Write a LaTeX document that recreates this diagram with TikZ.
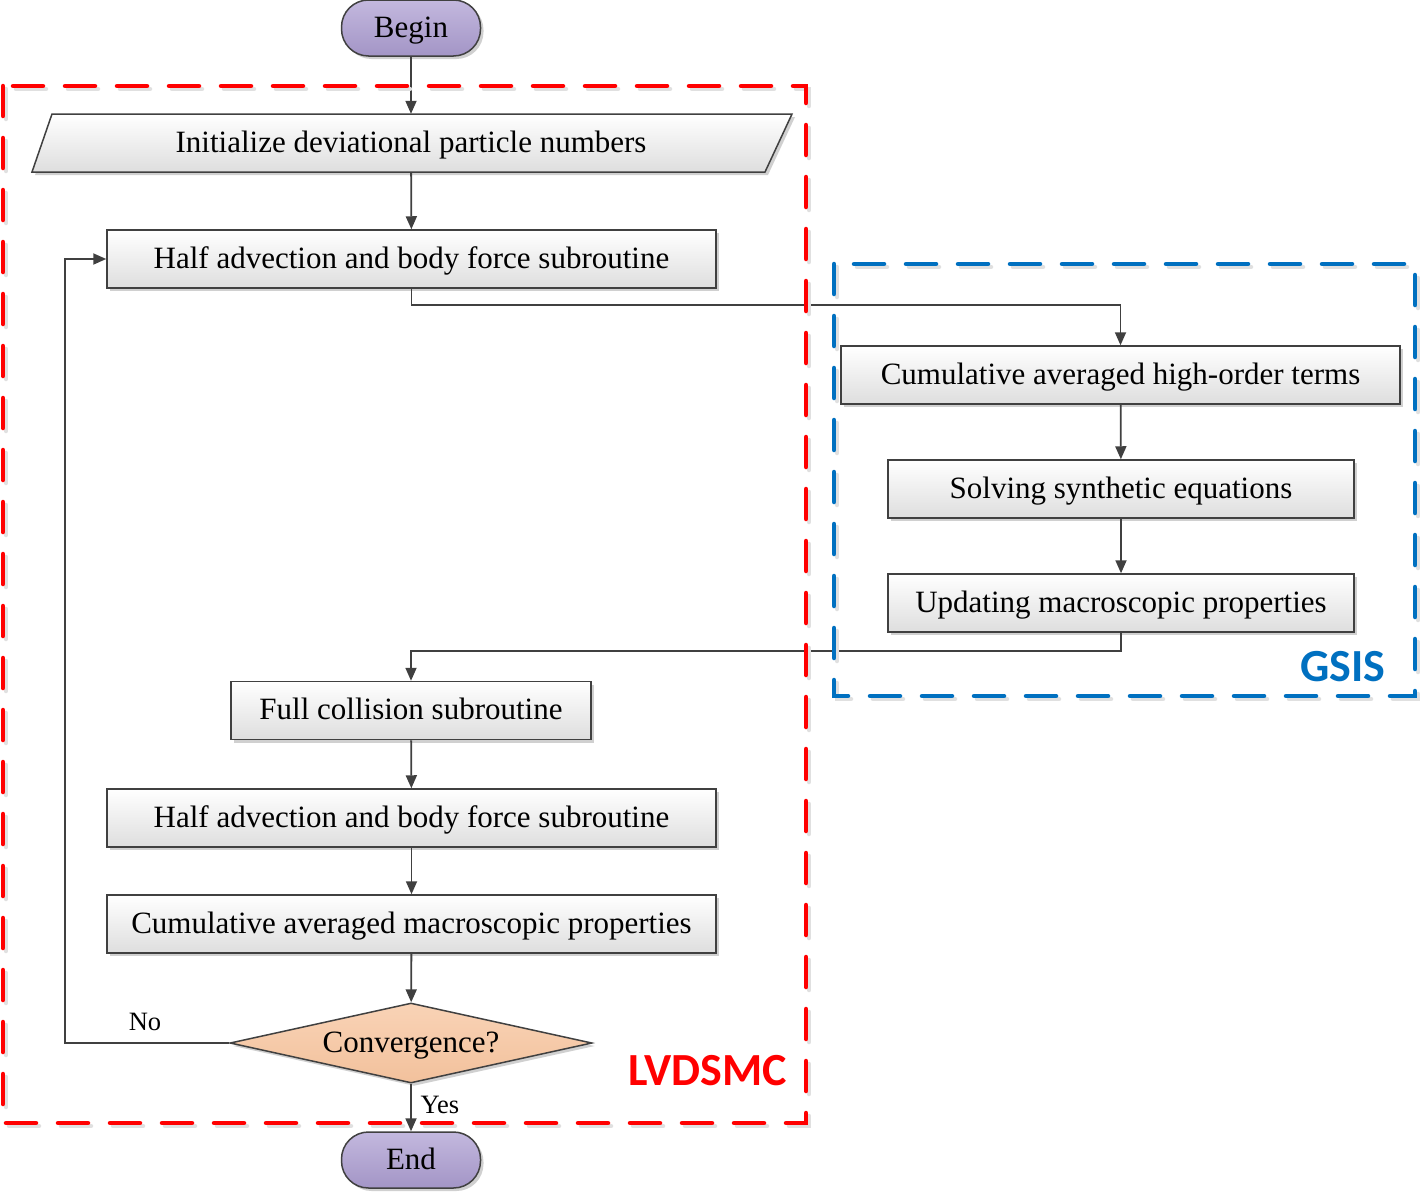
\documentclass[tikz,border=0pt]{standalone}
\usepackage{fontspec}
\setmainfont{Liberation Serif}
\newfontfamily\calib{Carlito}
\usetikzlibrary{arrows.meta,shadows,shapes.geometric}
\definecolor{lineg}{HTML}{404040}
\definecolor{lvred}{HTML}{FF0000}
\definecolor{gsblue}{HTML}{0070C0}
\definecolor{lavtop}{HTML}{C3B8DE}
\definecolor{lavbot}{HTML}{A395C6}
\definecolor{peachtop}{HTML}{F9D3B6}
\definecolor{peachbot}{HTML}{F2C19C}
\begin{document}
\begin{tikzpicture}[x=1pt,y=-1pt,
  every node/.style={font=\fontsize{31}{36}\selectfont, text=black},
  txt/.style={text height=22pt, text depth=4pt},
  shad/.style={drop shadow={shadow xshift=3pt, shadow yshift=-3pt, fill=black!30, opacity=0.6}},
  box/.style={draw=lineg, line width=1.5pt, top color=white, bottom color=black!13,
    minimum height=58pt, inner sep=0pt, txt, shad},
  term/.style={draw=lineg, line width=1.5pt, top color=lavtop, bottom color=lavbot,
    minimum width=139pt, minimum height=56pt, rounded corners=27pt, inner sep=0pt, txt, shad},
  decis/.style={diamond, draw=lineg, line width=1.5pt, top color=peachtop, bottom color=peachbot,
    minimum width=362pt, minimum height=80pt, aspect=4.5, inner sep=1pt, txt, shad},
  arr/.style={draw=lineg, line width=1.8pt, -{Triangle[length=13pt,width=11pt]}},
  frame/.style={line width=4.5pt, dash pattern=on 30pt off 22pt, line cap=round},
  small/.style={font=\fontsize{26.5}{30}\selectfont},
  tag/.style={font=\calib\bfseries\fontsize{46}{50}\selectfont}
]
\fill[white] (0,0) rectangle (1420,1191);
\useasboundingbox (0,0) rectangle (1420,1191);

% parallelogram
\path[fill=black!30, opacity=0.6] (55,117) -- (795,117) -- (768,175) -- (35,175) -- cycle;
\path[draw=lineg, line width=1.5pt, top color=white, bottom color=black!13]
  (52,114) -- (792,114) -- (765,172) -- (32,172) -- cycle;
\node[txt, minimum width=600pt, minimum height=58pt, inner sep=0pt] (init) at (411,143) {Initialize deviational particle numbers};

\node[term] (begin) at (411,28) {Begin};
\node[box, minimum width=609pt] (h1) at (411.5,259) {Half advection and body force subroutine};
\node[box, minimum width=559pt] (c1) at (1120.5,375) {Cumulative averaged high-order terms};
\node[box, minimum width=466pt] (s1) at (1121,489) {Solving synthetic equations};
\node[box, minimum width=466pt] (u1) at (1121,603) {Updating macroscopic properties};
\node[box, minimum width=360pt] (fc) at (411,710.5) {Full collision subroutine};
\node[box, minimum width=609pt] (h2) at (411.5,818) {Half advection and body force subroutine};
\node[box, minimum width=609pt] (cm) at (411.5,924) {Cumulative averaged macroscopic properties};
\node[decis] (conv) at (411,1043) {Convergence?};
\node[term] (end) at (411,1160) {End};

\node[small] (no) at (145,1022) {No};
\node[small] (yes) at (440,1105) {Yes};
\coordinate (loop) at (65,1043);

% connectors
\draw[arr] (begin) -- (init);
\draw[arr] (init) -- (h1);
\draw[arr] (h1.south) -- ++(0,16) -| (c1.north);
\draw[arr] (c1) -- (s1);
\draw[arr] (s1) -- (u1);
\draw[arr] (u1.south) -- ++(0,18) -| (fc.north);
\draw[arr] (fc) -- (h2);
\draw[arr] (h2) -- (cm);
\draw[arr] (cm) -- (conv);
\draw[arr] (conv.west) -- (loop) |- (h1.west);
\draw[arr] (conv) -- (end);

% dashed frames
\draw[frame, black!12] (6,89) rectangle (809,1126);
\draw[frame, black!12] (837,267) rectangle (1418,699);
\draw[frame, lvred] (3,86) rectangle (806,1123);
\draw[frame, gsblue] (834,264) rectangle (1415,696);

\node[tag, text=gsblue] (gsis) at (1343,667) {GSIS};
\node[tag, text=lvred] (lvd) at (708,1071) {LVDSMC};
\end{tikzpicture}
\end{document}
